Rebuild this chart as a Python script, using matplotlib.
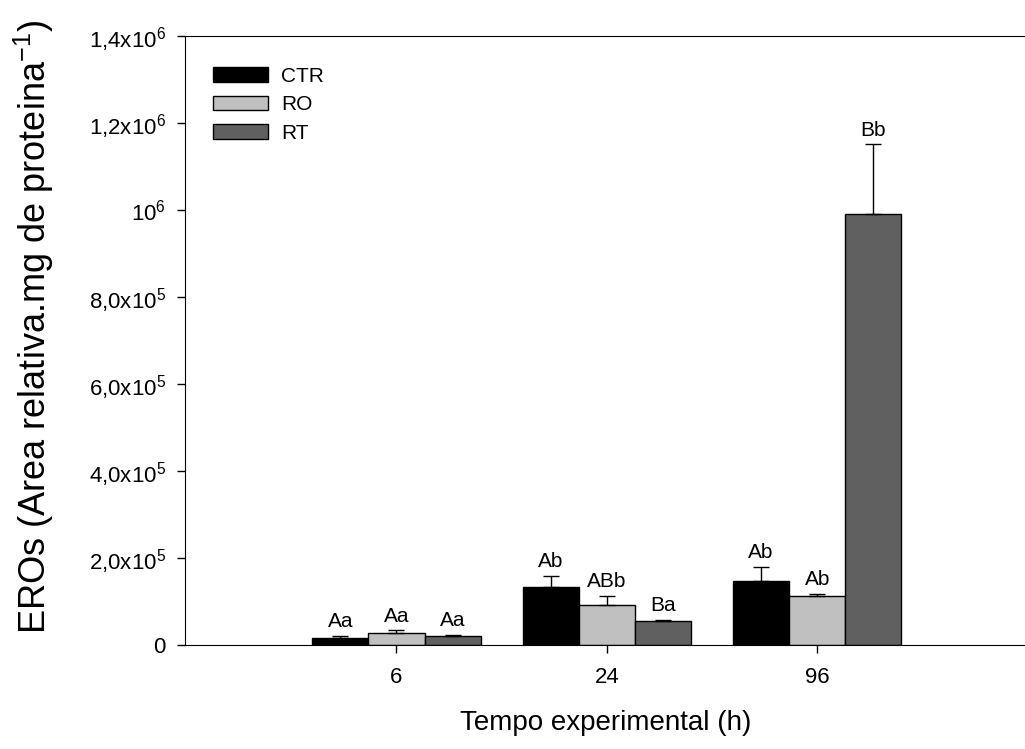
import matplotlib
matplotlib.use('Agg')
import matplotlib.pyplot as plt
import numpy as np

plt.rcParams['font.family'] = ['Liberation Sans', 'DejaVu Sans']
plt.rcParams['mathtext.fontset'] = 'custom'
plt.rcParams['mathtext.rm'] = 'Liberation Sans'
plt.rcParams['mathtext.it'] = 'Liberation Sans'
plt.rcParams['mathtext.default'] = 'regular'

# data
times = ['6', '24', '96']
groups = ['CTR', 'RO', 'RT']
ctr = [1.7e4, 1.33e5, 1.48e5]
ctr_err = [0.4e4, 0.26e5, 0.32e5]
ro = [2.8e4, 9.2e4, 1.13e5]
ro_err = [0.6e4, 2.1e4, 0.5e4]
rt = [2.1e4, 5.5e4, 9.9e5]
rt_err = [0.3e4, 0.3e4, 1.62e5]
letters = [['Aa', 'Ab', 'Ab'], ['Aa', 'ABb', 'Ab'], ['Aa', 'Ba', 'Bb']]

yticks = [0, 2e5, 4e5, 6e5, 8e5, 1e6, 1.2e6, 1.4e6]
ytick_labels = ['0', r'2,0x10$^{5}$', r'4,0x10$^{5}$', r'6,0x10$^{5}$',
                r'8,0x10$^{5}$', r'10$^{6}$', r'1,2x10$^{6}$', r'1,4x10$^{6}$']

colors = ['black', '#c0c0c0', '#606060']
means = [ctr, ro, rt]
errs = [ctr_err, ro_err, rt_err]

fig = plt.figure(figsize=(10.25, 7.49), dpi=100)
ax = fig.add_axes([0.1805, 0.1389, 0.82, 0.813])

x = np.arange(len(times))
w = 0.267
for i in range(3):
    pos = x + (i - 1) * w
    ax.bar(pos, means[i], width=w, color=colors[i], edgecolor='black',
           linewidth=1, label=groups[i], zorder=2)
    ax.errorbar(pos, means[i], yerr=[np.zeros(3), errs[i]], fmt='none',
                ecolor='black', elinewidth=1, capsize=6, capthick=1, zorder=3)
    for j in range(3):
        ax.annotate(letters[i][j], (pos[j], means[i][j] + errs[i][j]),
                    xytext=(0, 6), textcoords='offset points',
                    ha='center', va='baseline', fontsize=15)

ax.set_xlim(-1.005, 2.99)
ax.set_ylim(0, 1.4e6)
ax.set_xticks(x)
ax.set_xticklabels(times, fontsize=16)
ax.set_yticks(yticks)
ax.set_yticklabels(ytick_labels, fontsize=16)
ax.tick_params(direction='out', length=6, width=1)
ax.tick_params(axis='x', pad=10)
ax.tick_params(axis='y', pad=8)
ax.spines['right'].set_visible(False)

ax.set_xlabel('Tempo experimental (h)', fontsize=20, labelpad=16)
ax.set_ylabel('EROs (Area relativa.mg de proteina$^{-1}$)', fontsize=26)
ax.yaxis.set_label_coords(-0.153, 0.522)

ax.legend(loc='upper left', frameon=False, fontsize=15, handlelength=2.64,
          handleheight=0.72, labelspacing=0.45, handletextpad=0.62,
          bbox_to_anchor=(0.011, 0.98))

fig.savefig('out.png', dpi=100)
